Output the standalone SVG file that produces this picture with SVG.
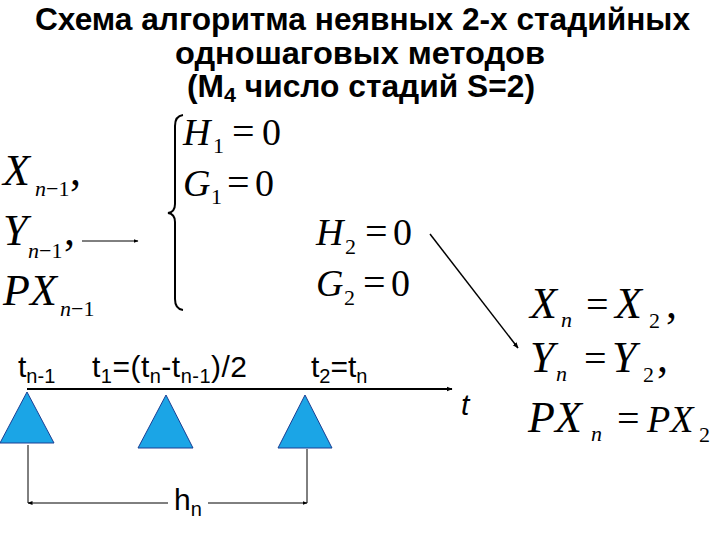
<svg xmlns="http://www.w3.org/2000/svg" width="720" height="540" viewBox="0 0 720 540">
<defs>
<style>
.title{font-family:"Liberation Sans",Arial,sans-serif;font-weight:bold;font-size:31px;fill:#000}
.m{font-family:"Liberation Serif","Times New Roman",serif;font-size:38px;fill:#000}
.b{font-size:44px}
.i{font-style:italic}
.s{font-size:22px}
.eq{font-size:40px}
.a{font-family:"Liberation Sans",Arial,sans-serif;font-size:30px;fill:#000}
.as{font-size:20px}
.ln{stroke:#000;fill:none}
.tri{fill:#1ba5e6;stroke:#1c3f94;stroke-width:1}
</style>
<marker id="ah" viewBox="0 0 10 10" refX="9" refY="5" markerWidth="5" markerHeight="5" orient="auto" markerUnits="userSpaceOnUse"><path d="M0,1 L10,5 L0,9 z" fill="#000"/></marker>
<marker id="ah2" viewBox="0 0 10 10" refX="9" refY="5" markerWidth="6" markerHeight="6" orient="auto" markerUnits="userSpaceOnUse"><path d="M0,1 L10,5 L0,9 z" fill="#000"/></marker>
</defs>
<rect width="720" height="540" fill="#fff"/>

<g id="title">
<text class="title" x="35" y="30" textLength="655" lengthAdjust="spacingAndGlyphs">Схема алгоритма неявных 2-х стадийных</text>
<text class="title" x="175" y="64" textLength="370" lengthAdjust="spacingAndGlyphs">одношаговых методов</text>
<text class="title" x="187" y="97" textLength="348" lengthAdjust="spacingAndGlyphs">(М<tspan font-size="21" dy="5">4</tspan><tspan dy="-5"> число стадий S=2)</tspan></text>
</g>

<g id="prev-values">
<text class="m b i" x="3" y="185">X</text>
<text class="m s" x="35" y="196"><tspan class="i">n</tspan>−1</text>
<text class="m b" x="70" y="185">,</text>
<text class="m b i" x="3" y="245">Y</text>
<text class="m s" x="28" y="258"><tspan class="i">n</tspan>−1</text>
<text class="m b" x="64" y="245">,</text>
<text class="m b i" x="3" y="305">PX</text>
<text class="m s" x="60" y="316"><tspan class="i">n</tspan>−1</text>
</g>

<g id="system">
<path class="ln" stroke-width="2" d="M183,115 Q175,116 175,126 L175,204 Q175,212 168,213 Q175,214 175,222 L175,299 Q175,309 183,310"/>
<text class="m i" x="183" y="145">H</text>
<text class="m s" x="213" y="153">1</text>
<text class="m eq" x="232" y="145">=</text>
<text class="m" x="262" y="145">0</text>
<text class="m i" x="183" y="196">G</text>
<text class="m s" x="211" y="204">1</text>
<text class="m eq" x="227" y="196">=</text>
<text class="m" x="255" y="196">0</text>
</g>

<g id="stage2">
<text class="m i" x="316" y="245">H</text>
<text class="m s" x="345" y="254">2</text>
<text class="m eq" x="365" y="245">=</text>
<text class="m" x="393" y="245">0</text>
<text class="m i" x="316" y="296">G</text>
<text class="m s" x="344" y="305">2</text>
<text class="m eq" x="363" y="296">=</text>
<text class="m" x="391" y="296">0</text>
</g>

<g id="result">
<text class="m b i" x="530" y="318">X</text>
<text class="m s i" x="561" y="327">n</text>
<text class="m eq" x="586" y="318">=</text>
<text class="m b i" x="615" y="318">X</text>
<text class="m s" x="649" y="328">2</text>
<text class="m b" x="666" y="318">,</text>
<text class="m b i" x="530" y="372">Y</text>
<text class="m s i" x="556" y="381">n</text>
<text class="m eq" x="584" y="372">=</text>
<text class="m b i" x="612" y="372">Y</text>
<text class="m s" x="643" y="382">2</text>
<text class="m b" x="657" y="372">,</text>
<text class="m b i" x="528" y="432">PX</text>
<text class="m s i" x="591" y="441">n</text>
<text class="m eq" x="617" y="432">=</text>
<text class="m i" x="647" y="432" font-size="41">PX</text>
<text class="m s" x="699" y="442">2</text>
</g>

<g id="labels">
<text class="a" x="18" y="377">t<tspan class="as" dy="6">n-1</tspan></text>
<text class="a" x="92" y="377" textLength="155" lengthAdjust="spacing">t<tspan class="as" dy="6">1</tspan><tspan dy="-6">=(t</tspan><tspan class="as" dy="6">n</tspan><tspan dy="-6">-t</tspan><tspan class="as" dy="6">n-1</tspan><tspan dy="-6">)/2</tspan></text>
<text class="a" x="311" y="377">t<tspan class="as" dy="6">2</tspan><tspan dy="-6">=t</tspan><tspan class="as" dy="6">n</tspan></text>
<text class="a" x="461" y="415" font-style="italic">t</text>
<text class="a" x="174" y="510">h<tspan class="as" dy="6">n</tspan></text>
</g>

<g id="t0"><polygon class="tri" points="27,392 0,443 54,443"/></g>
<g id="t1"><polygon class="tri" points="166,395 138,448 193,448"/></g>
<g id="t2"><polygon class="tri" points="305,395 278,448 332,448"/></g>

<g id="connectors">
<line class="ln" x1="82" y1="241" x2="138" y2="241" stroke-width="1" marker-end="url(#ah)"/>
<line class="ln" x1="430" y1="234" x2="518" y2="348" stroke-width="1.5" marker-end="url(#ah2)"/>
<line class="ln" x1="27" y1="389" x2="452" y2="389" stroke-width="2" marker-end="url(#ah2)"/>
<line class="ln" x1="28" y1="445" x2="28" y2="503" stroke-width="1"/>
<line class="ln" x1="307" y1="449" x2="307" y2="503" stroke-width="1"/>
<line class="ln" x1="168" y1="503" x2="28" y2="503" stroke-width="1" marker-end="url(#ah)"/>
<line class="ln" x1="208" y1="503" x2="307" y2="503" stroke-width="1" marker-end="url(#ah)"/>
</g>
</svg>
